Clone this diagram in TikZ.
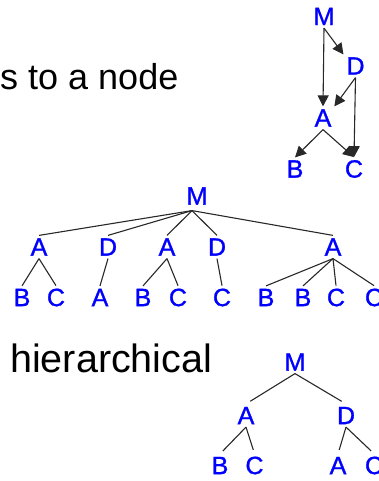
\documentclass[tikz,border=0pt]{standalone}
\usepackage{fontspec}
\setmainfont{Liberation Sans}
\newfontfamily\lblfont[FakeBold=1.2]{Liberation Sans}
\usetikzlibrary{arrows.meta}
\definecolor{lblue}{RGB}{0,0,255}
\definecolor{edgegray}{RGB}{40,40,40}
\tikzset{
  lbl/.style={text=lblue, inner sep=0pt, outer sep=3pt,
    font=\lblfont\fontsize{25pt}{30pt}\selectfont},
  tedge/.style={draw=edgegray, line width=1.1pt},
  aedge/.style={tedge, -{Triangle[length=11pt,width=11pt]}},
  caption/.style={inner sep=0pt, text=black}
}
\begin{document}
\begin{tikzpicture}[x=1pt,y=-1pt]
\useasboundingbox (0,0) rectangle (378,481);

% captions
\node[caption, anchor=base west, font=\fontsize{36pt}{40pt}\selectfont] (cap1) at (0,90) {s to a node};
\node[caption, anchor=base west, font=\fontsize{39.5pt}{44pt}\selectfont] (cap2) at (10,372) {hierarchical};

% directed acyclic graph
\node[lbl] (gM) at (324,16.5) {M};
\node[lbl] (gD) at (355.5,66) {D};
\node[lbl] (gA) at (323,118) {A};
\node[lbl] (gB) at (295,169) {B};
\node[lbl] (gC) at (354,169) {C};
\draw[aedge] (gM.south) -- (gD.north west);
\draw[aedge] (gM.south) -- (gA.north);
\draw[aedge] (gD.south) -- (gA.north east);
\draw[aedge] (gD.south) -- (gC.north);
\draw[aedge] (gA.south) -- (gB.north);
\draw[aedge] (gA.south) -- (gC.north);

% expanded tree
\node[lbl] (tM) at (197,196) {M};
\node[lbl] (tA1) at (39,247) {A};
\node[lbl] (tD1) at (108,247) {D};
\node[lbl] (tA2) at (167,247) {A};
\node[lbl] (tD2) at (217,247) {D};
\node[lbl] (tA3) at (333,247) {A};
\node[lbl] (tB1) at (22,297.5) {B};
\node[lbl] (tC1) at (56,297.5) {C};
\node[lbl] (tA4) at (100,297.5) {A};
\node[lbl] (tB2) at (143,297.5) {B};
\node[lbl] (tC2) at (178,297.5) {C};
\node[lbl] (tC3) at (222,297.5) {C};
\node[lbl] (tB3) at (266,297.5) {B};
\node[lbl] (tB4) at (303,297.5) {B};
\node[lbl] (tC4) at (336,297.5) {C};
\node[lbl] (tC5) at (374,297.5) {C};
\coordinate (tMr) at ([xshift=-5pt,yshift=-3pt]tM.south);
\foreach \c in {tA1,tD1,tA2,tD2,tA3} \draw[tedge] (tMr) -- (\c.north);
\draw[tedge] (tA1.south) -- (tB1.north);
\draw[tedge] (tA1.south) -- (tC1.north);
\draw[tedge] (tD1.south) -- (tA4.north);
\draw[tedge] (tA2.south) -- (tB2.north);
\draw[tedge] (tA2.south) -- (tC2.north);
\draw[tedge] (tD2.south) -- (tC3.north);
\foreach \c in {tB3,tB4,tC4,tC5} \draw[tedge] (tA3.south) -- (\c.north);

% hierarchical tree
\node[lbl] (hM) at (295,362) {M};
\node[lbl] (hA) at (246,415.5) {A};
\node[lbl] (hD) at (346,415.5) {D};
\node[lbl] (hB) at (220,465.5) {B};
\node[lbl] (hC1) at (254.5,465.5) {C};
\node[lbl] (hA2) at (338,465.5) {A};
\node[lbl] (hC2) at (374,465.5) {C};
\draw[tedge, shorten >=5pt] (hM.south) -- (hA.north);
\draw[tedge, shorten >=5pt] (hM.south) -- (hD.north);
\draw[tedge, shorten >=4pt] (hA.south) -- (hB.north);
\draw[tedge, shorten >=4pt] (hA.south) -- (hC1.north);
\draw[tedge, shorten >=4pt] (hD.south) -- (hA2.north);
\draw[tedge, shorten >=4pt] (hD.south) -- (hC2.north);
\end{tikzpicture}
\end{document}
